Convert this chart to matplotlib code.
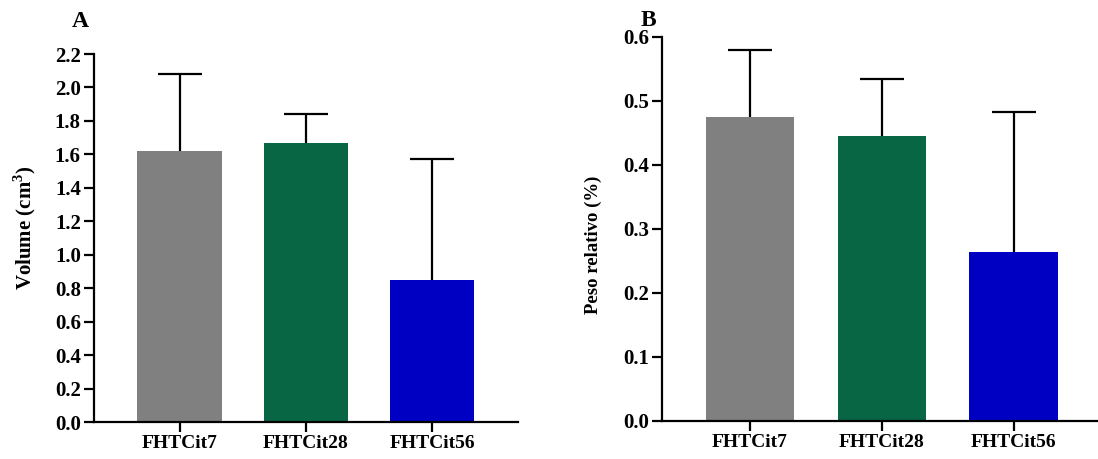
import matplotlib
matplotlib.use("Agg")
import matplotlib.pyplot as plt
import numpy as np

categories = ["FHTCit7", "FHTCit28", "FHTCit56"]
colors = ["#808080", "#086645", "#0000C2"]

volume_mean = [1.62, 1.67, 0.85]
volume_upper = [2.08, 1.84, 1.57]

peso_mean = [0.475, 0.445, 0.264]
peso_upper = [0.579, 0.534, 0.483]

plt.rcParams['font.family'] = ['Liberation Serif', 'DejaVu Serif']
plt.rcParams['font.weight'] = 'bold'
plt.rcParams['mathtext.fontset'] = 'custom'
plt.rcParams['mathtext.rm'] = 'Liberation Serif:bold'
plt.rcParams['mathtext.bf'] = 'Liberation Serif:bold'

fig = plt.figure(figsize=(10.98, 4.59), dpi=100)
axA = fig.add_axes([0.0856, 0.0806, 0.3862, 0.8017])
axB = fig.add_axes([0.6029, 0.0828, 0.3971, 0.8366])


def panel(ax, means, upper, ylim, yticks, ylabel, ylabel_size, label_xy,
          xlim, letter, letter_xy):
    x = np.arange(len(categories))
    err = np.array(upper) - np.array(means)
    ax.bar(x, means, width=0.67, color=colors, zorder=2)
    cont = ax.errorbar(x, means, yerr=[np.zeros_like(err), err], fmt='none',
                       ecolor='black', elinewidth=1.6, capsize=16, capthick=1.6,
                       zorder=1)
    caplines = cont.lines[1]
    if len(caplines) == 2:
        caplines[0].set_visible(False)
    ax.set_xlim(*xlim)
    ax.set_ylim(*ylim)
    ax.set_yticks(yticks)
    ax.set_yticklabels([f"{t:.1f}" for t in yticks])
    ax.set_xticks(x)
    ax.set_xticklabels(categories)
    for s in ['top', 'right']:
        ax.spines[s].set_visible(False)
    for s in ['left', 'bottom']:
        ax.spines[s].set_linewidth(1.6)
    ax.tick_params(axis='both', width=1.6, length=7.5, pad=2)
    ax.tick_params(axis='x', labelsize=14)
    ax.tick_params(axis='y', labelsize=15)
    for lab in ax.get_xticklabels() + ax.get_yticklabels():
        lab.set_fontweight('bold')
    ax.set_ylabel(ylabel, fontsize=ylabel_size, fontweight='bold')
    ax.yaxis.set_label_coords(*label_xy)
    fig.text(letter_xy[0], letter_xy[1], letter, fontsize=17, fontweight='bold',
             ha='center', va='baseline')


panel(axA, volume_mean, volume_upper, (0, 2.2), np.arange(0, 2.21, 0.2),
      r"Volume (cm$^{3}$)", 15, (-0.131, 0.527), (-0.677, 2.68), "A",
      (80 / 1098, 1 - 27 / 459))
panel(axB, peso_mean, peso_upper, (0, 0.6), np.arange(0, 0.61, 0.1),
      "Peso relativo (%)", 13.5, (-0.138, 0.46), (-0.667, 2.64), "B",
      (648 / 1098, 1 - 26 / 459))

fig.savefig("out.png", dpi=100)
